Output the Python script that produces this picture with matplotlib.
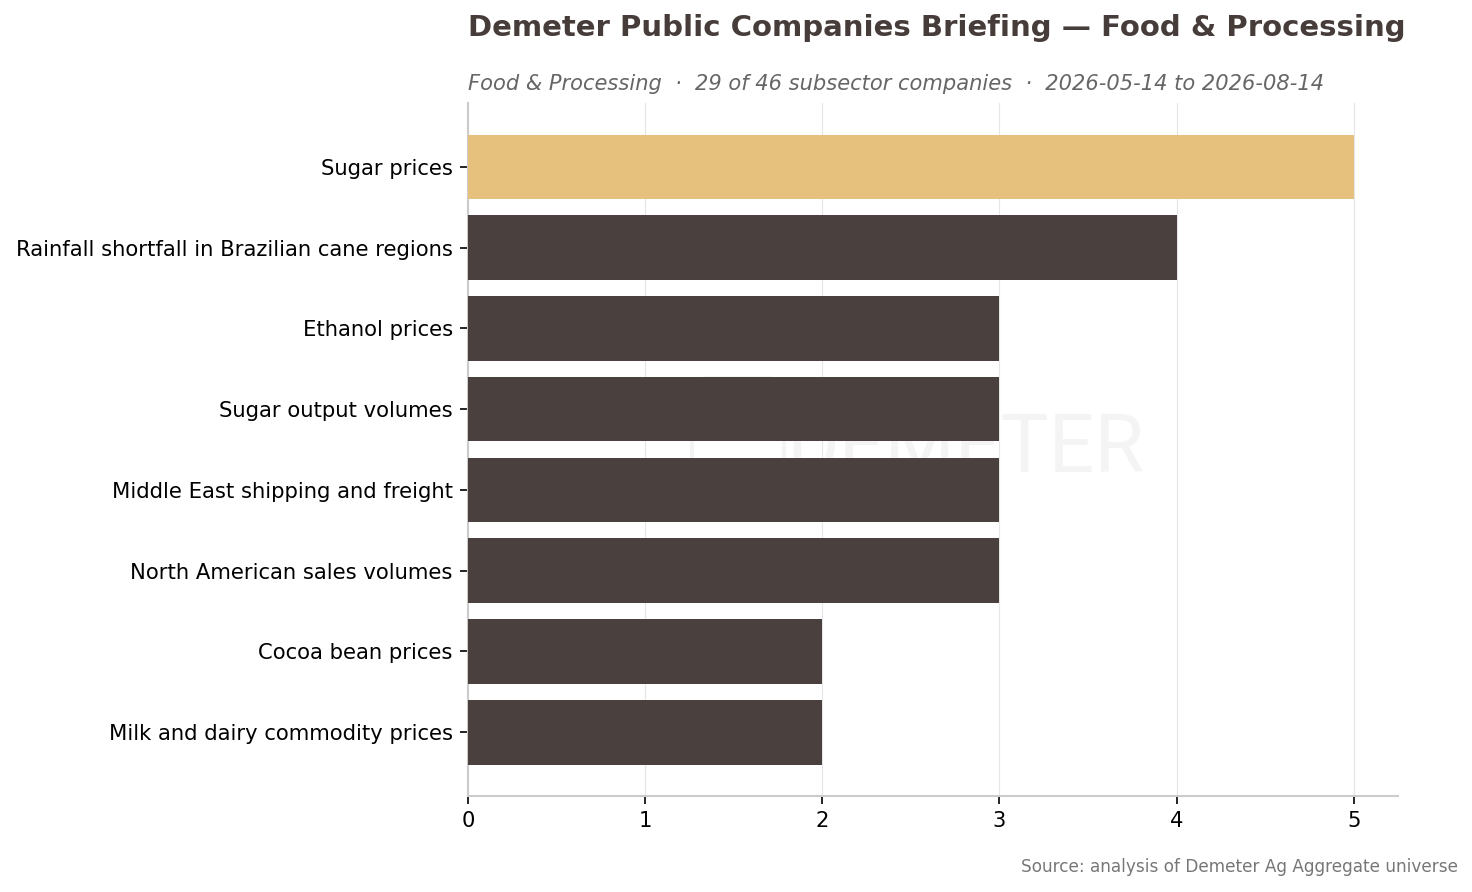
import matplotlib
matplotlib.use("Agg")
import matplotlib.pyplot as plt
from matplotlib.patches import FancyBboxPatch

categories = [
    "Sugar prices",
    "Rainfall shortfall in Brazilian cane regions",
    "Ethanol prices",
    "Sugar output volumes",
    "Middle East shipping and freight",
    "North American sales volumes",
    "Cocoa bean prices",
    "Milk and dairy commodity prices",
]
values = [5, 4, 3, 3, 3, 3, 2, 2]
highlight = [True, False, False, False, False, False, False, False]
xticks = [0, 1, 2, 3, 4, 5]

title = "Demeter Public Companies Briefing \u2014 Food & Processing"
subtitle = "Food & Processing  \u00b7  29 of 46 subsector companies  \u00b7  2026-05-14 to 2026-08-14"
source = "Source: analysis of Demeter Ag Aggregate universe"

dark = "#4a403e"
gold = "#e6c07d"

fig = plt.figure(figsize=(14.72, 8.92), dpi=100)
ax = fig.add_axes([0.318, 0.1076, 0.6317, 0.7769])

colors = [gold if h else dark for h in highlight]
ypos = list(range(len(categories)))
ax.barh(ypos, values, height=0.8, color=colors, zorder=3)

ax.set_yticks(ypos)
ax.set_yticklabels(categories, fontsize=15.25)
ax.set_xticks(xticks)
ax.set_xticklabels([str(t) for t in xticks], fontsize=15.25)
ax.set_xlim(0, 5.25)
ax.set_ylim(7.79, -0.79)

for s in ["top", "right"]:
    ax.spines[s].set_visible(False)
for s in ["left", "bottom"]:
    ax.spines[s].set_color("#cccccc")
    ax.spines[s].set_linewidth(1.5)
ax.xaxis.grid(True, color="#e6e6e6", linewidth=0.8, zorder=0)
ax.set_axisbelow(True)
ax.tick_params(axis="both", colors="black", length=6, width=1.2, pad=5)

# faint watermark
wm = "#f4f4f4"
ax.text((965 - 468) / 930, 0.5, "DEMETER", transform=ax.transAxes, fontsize=58,
        color=wm, ha="center", va="center", family="Roboto", zorder=1)
ax.add_patch(FancyBboxPatch(((692 - 468) / 930, (796 - 478) / 693), 92 / 930, 100 / 693,
                            boxstyle="round,pad=0,rounding_size=0.02",
                            transform=ax.transAxes, fill=False, edgecolor=wm,
                            linewidth=3, zorder=1))

fig.text(468 / 1472, 1 - 28 / 892, title, fontsize=20.95, fontweight="bold",
         color="#463c3a", ha="left", va="center")
fig.text(468 / 1472, 1 - 83.5 / 892, subtitle, fontsize=15.1, style="italic",
         color="#666666", ha="left", va="center")
fig.text(1458 / 1472, 1 - 867 / 892, source, fontsize=12.2,
         color="#777777", ha="right", va="center")

fig.savefig("out.png", dpi=100)
